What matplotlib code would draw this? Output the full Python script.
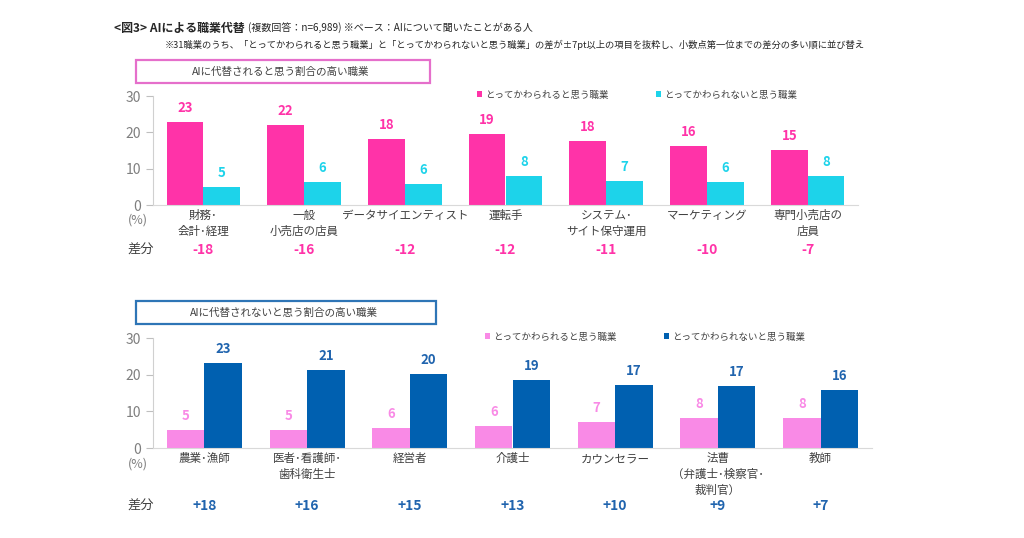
import matplotlib
matplotlib.use("Agg")
import matplotlib.pyplot as plt
import matplotlib.transforms as mtransforms
from matplotlib.patches import Rectangle
import numpy as np

plt.rcParams['font.family'] = ['Noto Sans CJK JP', 'DejaVu Sans']

# ---- data ----
top_categories = ["財務･\n会計･経理", "一般\n小売店の店員", "データサイエンティスト", "運転手",
                  "システム･\nサイト保守運用", "マーケティング", "専門小売店の\n店員"]
top_replaced = [22.8, 22.0, 18.2, 19.5, 17.6, 16.2, 15.2]
top_not_replaced = [5.0, 6.3, 5.8, 8.0, 6.5, 6.3, 7.9]
top_replaced_labels = ["23", "22", "18", "19", "18", "16", "15"]
top_not_replaced_labels = ["5", "6", "6", "8", "7", "6", "8"]
top_diff = ["-18", "-16", "-12", "-12", "-11", "-10", "-7"]

bot_categories = ["農業･漁師", "医者･看護師･\n歯科衛生士", "経営者", "介護士",
                  "カウンセラー", "法曹\n（弁護士･検察官･\n裁判官）", "教師"]
bot_replaced = [4.8, 4.8, 5.5, 6.0, 7.2, 8.1, 8.3]
bot_not_replaced = [23.2, 21.3, 20.2, 18.5, 17.2, 17.0, 15.7]
bot_replaced_labels = ["5", "5", "6", "6", "7", "8", "8"]
bot_not_replaced_labels = ["23", "21", "20", "19", "17", "17", "16"]
bot_diff = ["+18", "+16", "+15", "+13", "+10", "+9", "+7"]

yticks = [0, 10, 20, 30]
legend_labels = ["とってかわられると思う職業", "とってかわられないと思う職業"]

# ---- colours ----
PINK = "#FF33A8"
CYAN = "#1DD3EA"
LPINK = "#F98AE6"
BLUE = "#0060B0"
BLUE_TXT = "#2064AE"
GRAY = "#7F7F7F"
TXT = "#404040"

fig = plt.figure(figsize=(10.24, 5.38), dpi=100)
W, H = 1024, 538


def px(x, y):
    return x / W, 1 - y / H


def draw_panel(rect, cats, v1, v2, l1, l2, diffs, c1, c2, t1, t2, dcol, diff_y):
    ax = fig.add_axes(rect)
    x = np.arange(len(cats))
    bw = 0.365
    ax.bar(x - bw / 2, v1, bw, color=c1, label=legend_labels[0])
    ax.bar(x + bw / 2, v2, bw, color=c2, label=legend_labels[1])
    for xi, v, s in zip(x, v1, l1):
        ax.annotate(s, (xi - bw / 2, v), xytext=(0, 5), textcoords="offset points",
                    ha="center", va="bottom", color=t1, fontsize=9.5, fontweight="bold")
    for xi, v, s in zip(x, v2, l2):
        ax.annotate(s, (xi + bw / 2, v), xytext=(0, 5), textcoords="offset points",
                    ha="center", va="bottom", color=t2, fontsize=9.5, fontweight="bold")
    ax.set_xlim(-0.5, len(cats) - 0.5)
    ax.set_ylim(0, 30)
    ax.set_yticks(yticks)
    ax.tick_params(axis="y", colors="#BFBFBF", labelcolor=GRAY, labelsize=10, length=5, width=0.8)
    ax.set_xticks(x)
    ax.set_xticklabels(cats, fontsize=8.3, color=TXT, linespacing=1.3)
    ax.tick_params(axis="x", length=0, pad=3)
    for sp in ["top", "right"]:
        ax.spines[sp].set_visible(False)
    ax.spines["left"].set_color("#D0D0D0")
    ax.spines["bottom"].set_color("#D9D9D9")
    trans = mtransforms.blended_transform_factory(ax.transData, fig.transFigure)
    for xi, s in zip(x, diffs):
        ax.text(xi, 1 - diff_y / H, s, transform=trans, ha="center", va="center",
                color=dcol, fontsize=10, fontweight="bold")
    return ax


ax1 = draw_panel([153 / W, 1 - 205 / H, 705 / W, 109 / H], top_categories,
                 top_replaced, top_not_replaced, top_replaced_labels, top_not_replaced_labels,
                 top_diff, PINK, CYAN, PINK, CYAN, PINK, 250)
ax2 = draw_panel([153 / W, 1 - 448 / H, 719 / W, 110 / H], bot_categories,
                 bot_replaced, bot_not_replaced, bot_replaced_labels, bot_not_replaced_labels,
                 bot_diff, LPINK, BLUE, LPINK, BLUE_TXT, BLUE_TXT, 506)

# legends
ax1.legend(loc="upper left", bbox_to_anchor=(468 / W, 1 - 82 / H), bbox_transform=fig.transFigure,
           ncol=2, frameon=False, fontsize=6.8, handlelength=0.6, handleheight=0.6,
           handletextpad=0.3, columnspacing=5.0, labelcolor=TXT)
ax2.legend(loc="upper left", bbox_to_anchor=(476 / W, 1 - 324 / H), bbox_transform=fig.transFigure,
           ncol=2, frameon=False, fontsize=6.8, handlelength=0.6, handleheight=0.6,
           handletextpad=0.3, columnspacing=5.0, labelcolor=TXT)

# (%) and 差分 labels
fig.text(*px(138, 220), "(%)", ha="center", va="center", fontsize=9, color=GRAY)
fig.text(*px(138, 464), "(%)", ha="center", va="center", fontsize=9, color=GRAY)
fig.text(*px(141, 250), "差分", ha="center", va="center", fontsize=9.5, color=TXT)
fig.text(*px(141, 506), "差分", ha="center", va="center", fontsize=9.5, color=TXT)

# section boxes
fig.patches.append(Rectangle(px(136, 83), 294 / W, 23 / H, transform=fig.transFigure,
                             fill=False, edgecolor="#E56FCB", linewidth=1.6))
fig.text(*px(281, 72), "AIに代替されると思う割合の高い職業", ha="center", va="center",
         fontsize=7.6, color=TXT)
fig.patches.append(Rectangle(px(136, 324), 300 / W, 23 / H, transform=fig.transFigure,
                             fill=False, edgecolor="#2E75B6", linewidth=1.6))
fig.text(*px(284, 313), "AIに代替されないと思う割合の高い職業", ha="center", va="center",
         fontsize=7.6, color=TXT)

# titles
t = fig.text(*px(114, 28), "<図3> AIによる職業代替", ha="left", va="center",
             fontsize=8.6, fontweight="bold", color="#262626")
fig.canvas.draw()
bb = t.get_window_extent()
fig.text(bb.x1 / W + 0.003, 1 - 28 / H, "(複数回答：n=6,989) ※ベース：AIについて聞いたことがある人",
         ha="left", va="center", fontsize=7.2, color="#262626")
fig.text(*px(165, 45), "※31職業のうち、「とってかわられると思う職業」と「とってかわられないと思う職業」の差が±7pt以上の項目を抜粋し、小数点第一位までの差分の多い順に並び替え",
         ha="left", va="center", fontsize=6.7, color="#262626")

fig.savefig("out.png", dpi=100, facecolor="white")
